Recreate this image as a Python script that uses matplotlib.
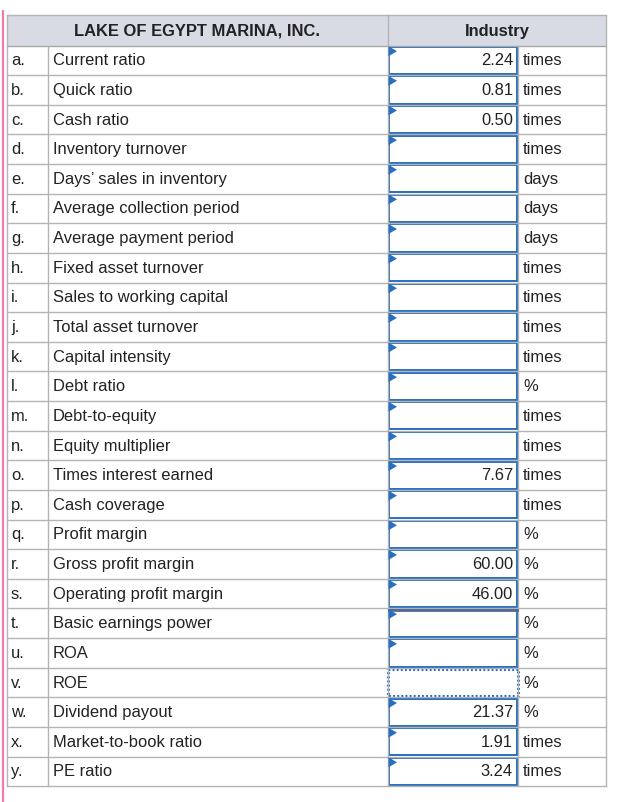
import matplotlib.pyplot as plt
from matplotlib.patches import Rectangle, Polygon

plt.rcParams['font.family'] = ['Liberation Sans', 'DejaVu Sans']

title = "LAKE OF EGYPT MARINA, INC."
col_header = "Industry"
letters = ["a.", "b.", "c.", "d.", "e.", "f.", "g.", "h.", "i.", "j.", "k.", "l.", "m.",
           "n.", "o.", "p.", "q.", "r.", "s.", "t.", "u.", "v.", "w.", "x.", "y."]
labels = ["Current ratio", "Quick ratio", "Cash ratio", "Inventory turnover",
          "Days\u2019 sales in inventory", "Average collection period",
          "Average payment period", "Fixed asset turnover", "Sales to working capital",
          "Total asset turnover", "Capital intensity", "Debt ratio", "Debt-to-equity",
          "Equity multiplier", "Times interest earned", "Cash coverage", "Profit margin",
          "Gross profit margin", "Operating profit margin", "Basic earnings power",
          "ROA", "ROE", "Dividend payout", "Market-to-book ratio", "PE ratio"]
values = ["2.24", "0.81", "0.50", "", "", "", "", "", "", "", "", "", "",
          "", "7.67", "", "", "60.00", "46.00", "", "", "", "21.37", "1.91", "3.24"]
units = ["times", "times", "times", "times", "days", "days", "days", "times", "times",
         "times", "times", "%", "times", "times", "times", "times", "%", "%", "%", "%",
         "%", "%", "%", "times", "times"]

W, H = 624, 802
fig = plt.figure(figsize=(W / 100, H / 100), dpi=100)
ax = fig.add_axes([0, 0, 1, 1])
ax.set_xlim(0, W)
ax.set_ylim(H, 0)
ax.axis("off")

# column edges
x0, x_let, x_lab, x_box, x_unit, x1 = 7, 48, 388, 388, 518, 606
head_top, head_bot = 15, 45.5
row_h = 29.63
n = len(labels)
bottom = head_bot + n * row_h

grid = "#b4b4b4"
blue = "#2a6fbf"
fs = 11.9

# left pink bar
ax.plot([3, 3], [10, H], color="#f07cab", lw=1.6, solid_capstyle="butt")

# header
ax.add_patch(Rectangle((x0, head_top), x1 - x0, head_bot - head_top,
                       facecolor="#d8dbe3", edgecolor="none"))
ax.text((x0 + x_lab) / 2, (head_top + head_bot) / 2 + 1, title, ha="center", va="center",
        fontsize=fs, fontweight="bold", color="#222222")
ax.text((x_box + x1) / 2, (head_top + head_bot) / 2 + 1, col_header, ha="center",
        va="center", fontsize=fs, fontweight="bold", color="#222222")

# grid lines
ax.plot([x0, x1], [head_top, head_top], color=grid, lw=1.0)
ax.plot([x0, x1], [head_bot, head_bot], color="#a8a8a8", lw=1.0)
for i in range(1, n + 1):
    y = head_bot + i * row_h
    ax.plot([x0, x1], [y, y], color=grid, lw=1.0)
for x, yt in [(x0, head_top), (x_let, head_bot), (x_lab, head_top), (x_unit, head_bot), (x1, head_top)]:
    ax.plot([x, x], [yt, bottom], color=grid, lw=1.0)

for i in range(n):
    top = head_bot + i * row_h
    yc = top + row_h / 2 + 0.5
    ax.text(11, yc, letters[i], ha="left", va="center", fontsize=fs, color="#222222")
    ax.text(53, yc, labels[i], ha="left", va="center", fontsize=fs, color="#222222")
    ax.text(523, yc, units[i], ha="left", va="center", fontsize=fs, color="#222222")

    bx, by = x_box + 1, top + 1.2
    bw, bh = 516.5 - bx, row_h - 2.4
    if labels[i] == "ROE":
        ax.add_patch(Rectangle((bx - 1, by), bw + 2, bh, facecolor="white",
                               edgecolor="#1f66c0", lw=2.2, linestyle=(0, (0.6, 0.75))))
    else:
        ax.add_patch(Rectangle((bx, by), bw, bh, facecolor="white", edgecolor=blue, lw=1.4))
        if labels[i] == "Basic earnings power":
            ax.plot([bx, bx + bw], [by + 0.6, by + 0.6], color="#4f6a96", lw=2.0)
        ax.add_patch(Polygon([[bx - 0.5, by - 0.5], [bx + 8, by + 4.5], [bx - 0.5, by + 9.5]],
                             closed=True, facecolor=blue, edgecolor="none", zorder=3))
    if values[i]:
        ax.text(513, yc, values[i], ha="right", va="center", fontsize=fs, color="#222222")

fig.savefig("out.png", dpi=100)
